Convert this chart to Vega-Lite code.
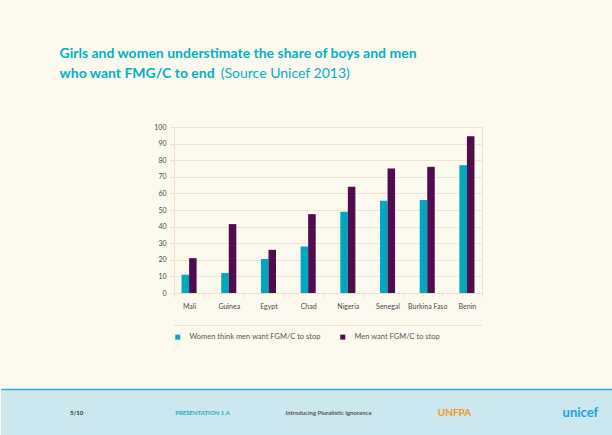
{
  "$schema": "https://vega.github.io/schema/vega-lite/v6.json",
  "background": "#fcf9ef",
  "padding": {"top": 46, "left": 0, "right": 0, "bottom": 0},
  "config": {
    "font": "Lato",
    "view": {"stroke": "#f5dfcf"},
    "legend": {"labelFont": "Lato"}
  },
  "title": {
    "text": ["Girls and women understimate the share of boys and men", "who want FMG/C to end"],
    "subtitle": "\u200b\u00a0\u00a0\u00a0\u00a0\u00a0\u00a0\u00a0\u00a0\u00a0\u00a0\u00a0\u00a0\u00a0\u00a0\u00a0\u00a0\u00a0\u00a0\u00a0\u00a0\u00a0\u00a0\u00a0\u00a0\u00a0\u00a0\u00a0\u00a0\u00a0\u00a0\u00a0\u00a0\u00a0\u00a0\u00a0\u00a0\u00a0\u00a0\u00a0\u00a0\u00a0\u00a0\u00a0\u00a0\u00a0(Source Unicef 2013)",
    "anchor": "start",
    "frame": "bounds",
    "dx": 59,
    "font": "Lato",
    "fontSize": 14,
    "fontWeight": "bold",
    "color": "#00b1c8",
    "lineHeight": 20,
    "subtitleFont": "Lato",
    "subtitleFontSize": 14,
    "subtitleFontWeight": "normal",
    "subtitleColor": "#00b1c8",
    "subtitlePadding": -14,
    "offset": 42
  },
  "spacing": 47,
  "center": true,
  "resolve": {
    "scale": {"x": "independent", "y": "independent", "color": "independent", "size": "independent"},
    "legend": {"color": "independent", "size": "independent"}
  },
  "vconcat": [
    {
      "resolve": {"legend": {"color": "independent"}},
      "hconcat": [
        {
          "width": 308,
          "height": 166,
          "layer": [
            {
              "data": {"values": [
                {"country": "Mali", "series": "Women think men want FGM/C to stop", "value": 11},
                {"country": "Mali", "series": "Men want FGM/C to stop", "value": 21},
                {"country": "Guinea", "series": "Women think men want FGM/C to stop", "value": 12},
                {"country": "Guinea", "series": "Men want FGM/C to stop", "value": 41.5},
                {"country": "Egypt", "series": "Women think men want FGM/C to stop", "value": 20.5},
                {"country": "Egypt", "series": "Men want FGM/C to stop", "value": 26},
                {"country": "Chad", "series": "Women think men want FGM/C to stop", "value": 28},
                {"country": "Chad", "series": "Men want FGM/C to stop", "value": 47.5},
                {"country": "Nigeria", "series": "Women think men want FGM/C to stop", "value": 49},
                {"country": "Nigeria", "series": "Men want FGM/C to stop", "value": 64},
                {"country": "Senegal", "series": "Women think men want FGM/C to stop", "value": 55.5},
                {"country": "Senegal", "series": "Men want FGM/C to stop", "value": 75},
                {"country": "Burkina Faso", "series": "Women think men want FGM/C to stop", "value": 56},
                {"country": "Burkina Faso", "series": "Men want FGM/C to stop", "value": 76},
                {"country": "Benin", "series": "Women think men want FGM/C to stop", "value": 77},
                {"country": "Benin", "series": "Men want FGM/C to stop", "value": 94.5}
              ]},
              "mark": {"type": "bar"},
              "encoding": {
                "x": {
                  "field": "country", "type": "nominal", "sort": null,
                  "scale": {"paddingInner": 0.24, "paddingOuter": 0},
                  "axis": {
                    "title": null, "labelAngle": 0, "labelFontSize": 7, "labelColor": "#4a4a4a",
                    "tickBand": "extent", "tickColor": "#f3dccb", "domainColor": "#f3dccb",
                    "tickSize": 4, "labelPadding": 5
                  }
                },
                "xOffset": {
                  "field": "series", "type": "nominal",
                  "sort": ["Women think men want FGM/C to stop", "Men want FGM/C to stop"],
                  "scale": {"paddingInner": 0, "paddingOuter": 1}
                },
                "y": {
                  "field": "value", "type": "quantitative",
                  "scale": {"domain": [0, 100]},
                  "axis": {
                    "title": null, "values": [0, 10, 20, 30, 40, 50, 60, 70, 80, 90, 100],
                    "grid": true, "gridColor": "#f6e1d1", "domain": false,
                    "tickColor": "#f3dccb", "tickSize": 4, "labelPadding": 4,
                    "labelFontSize": 7, "labelColor": "#4a4a4a",
                    "minExtent": 173, "maxExtent": 173
                  }
                },
                "color": {
                  "field": "series", "type": "nominal",
                  "scale": {"domain": ["Women think men want FGM/C to stop", "Men want FGM/C to stop"], "range": ["#00a8bf", "#4f0d4d"]},
                  "legend": {
                    "orient": "bottom", "direction": "horizontal", "title": null,
                    "symbolType": "square", "symbolSize": 25, "symbolStrokeWidth": 0,
                    "labelFontSize": 7.5, "labelColor": "#555555", "columnPadding": 18,
                    "labelOffset": 8, "offset": 24
                  }
                }
              }
            },
            {
              "data": {"values": [{}]},
              "mark": {"type": "rule", "color": "#f3dccb", "strokeWidth": 1},
              "encoding": {
                "y": {
                  "datum": -19.5,
                  "scale": {"domain": [0, 100]},
                  "axis": {
                    "title": null, "values": [0, 10, 20, 30, 40, 50, 60, 70, 80, 90, 100],
                    "grid": true, "gridColor": "#f6e1d1", "domain": false,
                    "tickColor": "#f3dccb", "tickSize": 4, "labelPadding": 4,
                    "labelFontSize": 7, "labelColor": "#4a4a4a",
                    "minExtent": 173, "maxExtent": 173
                  }
                }
              }
            }
          ]
        }
      ]
    },
    {
      "width": 655,
      "height": 47,
      "view": {"fill": "#cce8ee", "stroke": null},
      "data": {"values": [
        {"item": "5/10"},
        {"item": "PRESENTATION 1.A"},
        {"item": "Introducing Pluralistic Ignorance"},
        {"item": "UNFPA"},
        {"item": "unicef"}
      ]},
      "mark": {"type": "text", "fontWeight": "bold"},
      "encoding": {
        "x": {
          "field": "item", "type": "nominal", "sort": null,
          "scale": {"type": "point", "padding": 0.6},
          "axis": {"orient": "top", "domainColor": "#22b3c6", "domainWidth": 1.5, "labels": false, "ticks": false, "title": null, "grid": false, "minExtent": 0, "maxExtent": 0}
        },
        "text": {"field": "item"},
        "color": {"field": "item", "type": "nominal", "sort": null, "legend": null,
          "scale": {"range": ["#333333", "#1aaec3", "#555555", "#f7941d", "#1aa0d8"]}},
        "size": {"field": "item", "type": "nominal", "sort": null, "legend": null,
          "scale": {"type": "ordinal", "range": [6, 6, 6, 10, 13]}}
      }
    }
  ]
}
